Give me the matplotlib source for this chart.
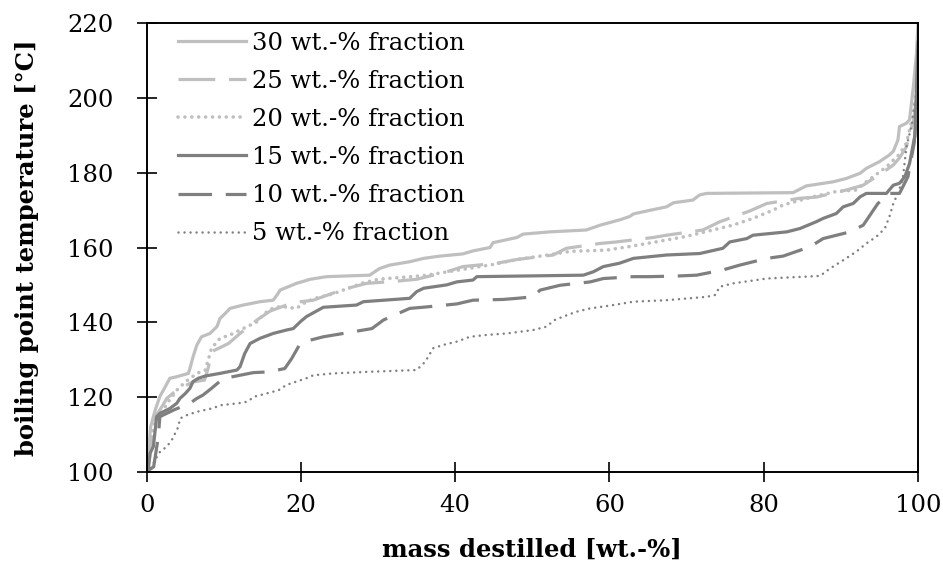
import matplotlib
matplotlib.use("Agg")
import matplotlib.pyplot as plt

# Distillation curves: mass distilled [wt.-%] vs. boiling point temperature [°C]
labels = ["30 wt.-% fraction", "25 wt.-% fraction", "20 wt.-% fraction",
          "15 wt.-% fraction", "10 wt.-% fraction", "5 wt.-% fraction"]

x30 = [0, 0.2, 0.5, 1.1, 1.7, 2.4, 3.0, 3.9, 5.4, 5.6, 6.0, 6.5, 7.1, 8.2, 9.1, 9.5, 10.2, 10.8,
       12.5, 14.7, 16.4, 16.9, 17.3, 19.4, 21.2, 23.3, 28.9, 30.2, 31.5, 34.1, 35.9, 38.0, 41.0,
       42.3, 44.5, 44.9, 48.0, 48.8, 52.3, 57.0, 58.8, 61.3, 62.6, 63.1, 65.3, 67.4, 68.3, 70.8,
       71.7, 72.6, 83.8, 85.5, 89.0, 90.7, 92.5, 93.3, 95.0, 96.3, 96.8, 97.4, 97.6, 98.5, 98.9,
       99.4, 99.8, 100]
y30 = [100, 104, 112, 116.5, 120.1, 122.7, 125.0, 125.4, 126.3, 127.6, 130.7, 133.9, 136.1, 137.0,
       138.8, 141.0, 142.4, 143.7, 144.6, 145.5, 145.9, 147.3, 148.6, 150.4, 151.5, 152.2, 152.6,
       154.4, 155.3, 156.2, 157.1, 157.7, 158.3, 159.1, 160.0, 161.3, 162.7, 163.6, 164.2, 164.7,
       166.0, 167.4, 168.3, 169.0, 170.0, 170.9, 172.0, 172.7, 174.1, 174.5, 174.7, 176.5, 177.6,
       178.5, 179.9, 181.2, 183.0, 184.8, 185.8, 188.8, 192.4, 193.3, 194.2, 203.1, 212.0, 220]

x25 = [0, 0.4, 0.9, 2.0, 2.6, 4.0, 6.0, 7.5, 8.0, 8.4, 10.6, 12.1, 13.2, 14.3, 16.0, 18.0, 20.0,
       21.6, 25.5, 28.5, 32.4, 35.0, 38.9, 41.0, 45.4, 48.0, 52.7, 54.4, 58.8, 60.9, 65.7, 67.4,
       72.1, 74.3, 78.2, 80.4, 84.7, 86.8, 90.7, 92.9, 95.9, 96.8, 97.6, 98.5, 99.4, 99.8, 100]
y25 = [100, 104, 114, 117.5, 119.6, 122.0, 124.0, 124.5, 128.0, 132.1, 134.3, 137.0, 138.8, 140.6,
       143.0, 144.5, 145.5, 145.9, 148.8, 150.4, 151.0, 151.5, 153.5, 154.9, 155.8, 156.8, 158.0,
       159.8, 161.1, 161.5, 162.7, 163.3, 164.7, 166.9, 169.8, 171.8, 173.2, 173.5, 175.4, 176.7,
       180.8, 182.1, 184.0, 187.0, 194.0, 200.0, 210]

x20 = [0, 0.5, 1.0, 2.0, 2.8, 3.9, 5.0, 6.5, 7.6, 8.4, 9.5, 10.8, 12.1, 13.0, 14.3, 15.3, 16.6,
       17.9, 19.4, 20.7, 22.0, 24.0, 26.0, 28.0, 30.0, 33.0, 36.0, 39.0, 42.0, 45.0, 48.0, 52.0,
       55.0, 59.6, 62.4, 66.0, 70.0, 73.4, 76.0, 78.6, 81.2, 82.5, 86.4, 89.4, 92.0, 93.3, 95.9,
       96.8, 97.6, 98.5, 99.3, 100]
y20 = [100, 108, 113, 116, 118.7, 121.8, 124.0, 126.3, 127.2, 133.0, 135.7, 136.6, 137.9, 138.8,
       140.1, 142.4, 144.1, 144.1, 143.7, 145.5, 146.5, 147.5, 149.0, 150.5, 151.5, 152.0, 152.5,
       153.5, 154.5, 155.5, 156.8, 158.0, 159.0, 159.3, 160.2, 161.5, 163.0, 164.7, 166.0, 167.8,
       170.0, 171.4, 173.6, 175.0, 175.4, 177.6, 181.6, 183.4, 185.0, 188.0, 195.0, 205]

x15 = [0, 0.2, 0.43, 0.86, 1.29, 1.72, 3.0, 3.9, 4.3, 5.0, 5.6, 6.0, 6.7, 7.6, 9.5, 11.7, 12.1,
       12.7, 13.4, 14.7, 16.4, 18.1, 19.0, 19.9, 20.7, 22.9, 27.2, 28.1, 34.1, 35.0, 35.9, 38.9,
       40.2, 42.3, 42.8, 56.6, 57.9, 59.2, 61.3, 63.1, 67.4, 71.7, 74.7, 75.6, 77.8, 78.6, 83.0,
       84.7, 86.8, 87.7, 89.4, 90.3, 91.6, 92.5, 93.3, 95.9, 96.8, 97.6, 98.3, 98.9, 99.6, 100]
y15 = [100, 100.4, 104.9, 106.7, 114.7, 115.6, 116.9, 118.3, 119.6, 120.9, 122.3, 124.1, 125.0,
       125.6, 126.3, 127.2, 128.1, 131.6, 134.3, 135.7, 137.0, 137.9, 138.3, 140.1, 141.5, 144.0,
       144.6, 145.5, 146.4, 148.2, 149.1, 150.0, 150.8, 151.3, 152.2, 152.6, 153.5, 154.9, 155.8,
       157.1, 158.0, 158.4, 159.8, 161.5, 162.4, 163.3, 164.2, 165.1, 166.9, 167.8, 169.1, 170.9,
       171.8, 173.6, 174.5, 174.5, 176.7, 177.2, 179.0, 182.5, 190.0, 215]

x10 = [0, 0.9, 1.5, 1.7, 2.6, 3.5, 5.6, 6.5, 7.3, 8.4, 9.9, 13.8, 15.8, 17.9, 18.8, 19.9, 21.2,
       22.9, 25.5, 29.2, 30.7, 34.1, 36.3, 40.2, 42.3, 46.2, 48.0, 50.1, 51.0, 53.6, 57.5, 59.2,
       63.1, 65.2, 69.1, 71.3, 74.7, 76.9, 80.4, 82.5, 86.0, 87.7, 91.2, 92.9, 94.8, 96.3, 97.6,
       98.7, 99.5, 100]
y10 = [100, 101.3, 109.3, 114.7, 115.6, 116.5, 118.3, 119.6, 120.5, 122.3, 124.9, 126.5, 126.7,
       127.6, 130.3, 134.3, 135.2, 136.1, 137.0, 138.3, 140.6, 143.7, 144.1, 144.9, 145.9, 146.1,
       146.4, 146.8, 148.6, 149.9, 150.8, 151.7, 152.2, 152.2, 152.4, 152.6, 154.0, 155.3, 157.1,
       157.7, 160.2, 162.4, 164.2, 166.0, 171.8, 174.5, 174.5, 179.0, 188.0, 200]

x5 = [0, 0.43, 1.08, 1.72, 2.6, 3.24, 3.67, 4.1, 4.3, 5.18, 6.48, 8.42, 9.7, 11.9, 13.0, 14.0,
      15.5, 17.1, 18.1, 19.4, 20.7, 21.6, 24.2, 28.5, 35.0, 35.9, 36.5, 37.1, 38.4, 40.2, 41.9,
      44.1, 46.7, 50.1, 51.8, 52.9, 54.0, 55.7, 57.5, 60.5, 63.1, 67.4, 72.6, 73.7, 74.3, 76.0,
      80.4, 87.3, 88.6, 90.3, 92.0, 93.3, 94.6, 95.7, 96.3, 96.8, 97.2, 98.0, 98.5, 99.2, 99.6, 100]
y5 = [100, 100.4, 103.1, 105.3, 106.7, 108.4, 110.2, 112.0, 114.2, 115.1, 116.0, 116.9, 117.8,
      118.3, 118.7, 120.1, 120.9, 121.8, 123.2, 124.1, 125.0, 125.8, 126.3, 126.7, 127.2, 129.0,
      130.7, 133.0, 133.9, 134.8, 136.1, 136.6, 137.0, 137.9, 138.8, 140.6, 141.5, 142.8, 143.7,
      144.6, 145.5, 145.9, 146.8, 147.3, 149.5, 150.4, 151.7, 152.4, 154.4, 156.6, 158.9, 161.1,
      162.9, 165.1, 168.3, 171.8, 173.6, 178.0, 187.0, 193.0, 198.6, 200]

x_ticks = [0, 20, 40, 60, 80, 100]
y_ticks = [100, 120, 140, 160, 180, 200, 220]

LIGHT = "#bfbfbf"
DARK = "#7f7f7f"

plt.rcParams["font.family"] = ["DejaVu Serif"]
FS = 17.5

fig = plt.figure(figsize=(9.43, 5.66), dpi=100)
ax = fig.add_axes([0.1556, 0.1668, 0.8179, 0.7917])

series = [
    (x30, y30, dict(color=LIGHT, lw=2.3, linestyle="-")),
    (x25, y25, dict(color=LIGHT, lw=2.3, linestyle=(0, (11.5, 4.3)), dash_capstyle="butt")),
    (x20, y20, dict(color=LIGHT, lw=2.6, linestyle=(0, (0.01, 1.9)), dash_capstyle="round")),
    (x15, y15, dict(color=DARK, lw=2.3, linestyle="-")),
    (x10, y10, dict(color=DARK, lw=2.3, linestyle=(0, (10.5, 4.3)), dash_capstyle="butt")),
    (x5, y5, dict(color=DARK, lw=1.8, linestyle=(0, (0.01, 2.4)), dash_capstyle="round")),
]
for (xs, ys, style), lab in zip(series, labels):
    ax.plot(xs, ys, label=lab, solid_joinstyle="round", **style)

ax.set_xlim(0, 100)
ax.set_ylim(100, 220)
ax.set_xticks(x_ticks)
ax.set_yticks(y_ticks)
for s in ax.spines.values():
    s.set_linewidth(1.4)
    s.set_color("black")
ax.tick_params(axis="both", direction="inout", length=14, width=1.2, labelsize=FS, colors="black")
ax.tick_params(axis="y", pad=17)
ax.tick_params(axis="x", pad=9)

ax.set_xlabel("mass destilled [wt.-%]", fontsize=FS, fontweight="bold", labelpad=15)
ax.set_ylabel("boiling point temperature [°C]", fontsize=FS, fontweight="bold", labelpad=20)

leg = ax.legend(loc="upper left", bbox_to_anchor=(0.037, 0.987), frameon=False, fontsize=FS,
                handlelength=2.8, handletextpad=0.25, labelspacing=0.62, borderpad=0.1,
                borderaxespad=0.0)

fig.savefig("out.png", dpi=100)
